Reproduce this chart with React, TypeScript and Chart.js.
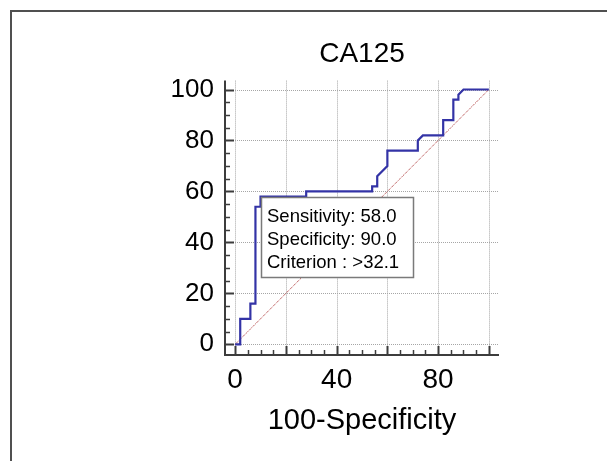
import React, { useEffect, useRef } from 'react';
import { Chart, registerables } from 'chart.js';

Chart.register(...registerables);

// ---- data ----
const chartTitle = 'CA125';
const xAxisTitle = '100-Specificity';
const fprValues = [0, 2, 2, 6, 6, 8, 8, 10, 10, 28, 28, 54, 54, 56, 56, 60, 60, 72, 72, 74, 82, 82, 86, 86, 88, 88, 90, 100];
const tprValues = [0, 0, 10, 10, 16, 16, 54, 54, 58, 58, 60, 60, 62, 62, 66, 70, 76, 76, 80, 82, 82, 88, 88, 96, 96, 98, 100, 100];
const diagonalX = [0, 100];
const diagonalY = [0, 100];
const yTickValues = [0, 20, 40, 60, 80, 100];
const xGridValues = [0, 20, 40, 60, 80, 100];
const xTickLabelValues = [0, 40, 80];
const minorStep = 5;
const criterionX = 10;
const criterionY = 58;
const infoLines = ['Sensitivity: 58.0', 'Specificity: 90.0', 'Criterion : >32.1'];

const FONT = "'Liberation Sans', Arial, Helvetica, sans-serif";

export default function App() {
  const ref = useRef<HTMLCanvasElement>(null);

  useEffect(() => {
    document.body.style.margin = '0';
    document.body.style.overflow = 'hidden';
    const canvas = ref.current;
    if (!canvas) return;

    const decor = {
      id: 'decor',
      beforeDraw(chart: any) {
        const ctx = chart.ctx;
        ctx.save();
        ctx.fillStyle = '#ffffff';
        ctx.fillRect(0, 0, chart.width, chart.height);
        ctx.strokeStyle = '#505050';
        ctx.lineWidth = 2;
        ctx.beginPath();
        ctx.moveTo(11, chart.height + 5);
        ctx.lineTo(11, 11);
        ctx.lineTo(chart.width + 5, 11);
        ctx.stroke();
        ctx.restore();
      },
      beforeDatasetsDraw(chart: any) {
        const ctx = chart.ctx;
        const { left, right, top, bottom } = chart.chartArea;
        const xs = chart.scales.x;
        const ys = chart.scales.y;
        ctx.save();
        ctx.strokeStyle = '#a6a6a6';
        ctx.lineWidth = 1;
        ctx.setLineDash([1, 1]);
        yTickValues.forEach((v) => {
          const py = Math.round(ys.getPixelForValue(v)) + 0.5;
          ctx.beginPath();
          ctx.moveTo(left, py);
          ctx.lineTo(right, py);
          ctx.stroke();
        });
        xGridValues.forEach((v) => {
          const px = Math.round(xs.getPixelForValue(v)) + 0.5;
          ctx.beginPath();
          ctx.moveTo(px, top);
          ctx.lineTo(px, bottom);
          ctx.stroke();
        });
        ctx.restore();
      },
      afterDatasetsDraw(chart: any) {
        const ctx = chart.ctx;
        const { left, right, top, bottom } = chart.chartArea;
        const xs = chart.scales.x;
        const ys = chart.scales.y;
        ctx.save();
        ctx.strokeStyle = '#3c3c3c';
        // axis lines
        ctx.lineWidth = 2;
        ctx.beginPath();
        ctx.moveTo(left, top);
        ctx.lineTo(left, bottom + 1);
        ctx.lineTo(right, bottom + 1);
        ctx.stroke();
        // y ticks
        for (let v = 0; v <= 100; v += minorStep) {
          const major = v % 20 === 0;
          const py = Math.round(ys.getPixelForValue(v)) + 0.5;
          ctx.lineWidth = major ? 2 : 1.5;
          ctx.beginPath();
          ctx.moveTo(left, py);
          ctx.lineTo(left + (major ? 9 : 5), py);
          ctx.stroke();
        }
        // x ticks
        for (let v = 0; v <= 100; v += minorStep) {
          const major = v % 20 === 0;
          const px = Math.round(xs.getPixelForValue(v)) + 0.5;
          ctx.lineWidth = major ? 2 : 1.5;
          ctx.beginPath();
          ctx.moveTo(px, bottom + 1);
          ctx.lineTo(px, bottom + 1 - (major ? 9 : 5));
          ctx.stroke();
        }
        // info box anchored at the criterion point
        const bx = Math.round(xs.getPixelForValue(criterionX)) + 0.5;
        const by = Math.round(ys.getPixelForValue(criterionY)) + 0.5;
        const bw = 152;
        const bh = 80;
        ctx.fillStyle = '#ffffff';
        ctx.fillRect(bx, by, bw, bh);
        ctx.strokeStyle = '#7a7a7a';
        ctx.lineWidth = 1.5;
        ctx.strokeRect(bx, by, bw, bh);
        ctx.fillStyle = '#000000';
        ctx.font = `18.5px ${FONT}`;
        ctx.textAlign = 'left';
        ctx.textBaseline = 'alphabetic';
        infoLines.forEach((line, i) => {
          ctx.fillText(line, bx + 5.5, by + 24.3 + i * 23.2);
        });
        ctx.restore();
      },
    };

    const chart = new Chart(canvas, {
      type: 'scatter',
      data: {
        datasets: [
          {
            label: 'ROC',
            data: fprValues.map((x, i) => ({ x, y: tprValues[i] })),
            showLine: true,
            borderColor: '#3333a6',
            backgroundColor: '#3333a6',
            borderWidth: 2.2,
            pointRadius: 0,
            tension: 0,
            fill: false,
          },
          {
            label: 'Reference',
            data: diagonalX.map((x, i) => ({ x, y: diagonalY[i] })),
            showLine: true,
            borderColor: '#a82828',
            backgroundColor: '#a82828',
            borderWidth: 1,
            borderDash: [1, 1],
            pointRadius: 0,
            tension: 0,
            fill: false,
          },
        ],
      },
      options: {
        animation: false,
        responsive: false,
        events: [],
        layout: { padding: { left: 0, right: 108, top: 0, bottom: 0 } },
        plugins: {
          legend: { display: false },
          tooltip: { enabled: false },
          title: {
            display: true,
            text: chartTitle,
            fullSize: false,
            color: '#000000',
            font: { size: 28, family: FONT, weight: 'normal' },
            padding: { top: 37, bottom: 10 },
          },
        },
        scales: {
          x: {
            type: 'linear',
            min: -4,
            max: 104,
            grid: { display: false, drawTicks: false },
            border: { display: false },
            afterBuildTicks: (s: any) => {
              s.ticks = xTickLabelValues.map((v) => ({ value: v }));
            },
            afterFit: (s: any) => {
              s.height = 107;
            },
            ticks: {
              padding: 9,
              color: '#000000',
              autoSkip: false,
              maxRotation: 0,
              font: { size: 28, family: FONT },
              callback: (v: any) => String(v),
            },
            title: {
              display: true,
              text: xAxisTitle,
              color: '#000000',
              font: { size: 29, family: FONT },
              padding: { top: 0, bottom: 22.7 },
            },
          },
          y: {
            type: 'linear',
            min: -3.8,
            max: 103.5,
            grid: { display: false, drawTicks: false },
            border: { display: false },
            afterBuildTicks: (s: any) => {
              s.ticks = yTickValues.map((v) => ({ value: v }));
            },
            afterFit: (s: any) => {
              s.width = 225;
            },
            ticks: {
              padding: 11,
              color: '#000000',
              autoSkip: false,
              font: { size: 26, family: FONT },
              callback: (v: any) => String(v),
            },
          },
        },
      },
      plugins: [decor],
    } as any);

    return () => chart.destroy();
  }, []);

  return <canvas ref={ref} width={607} height={461} style={{ display: 'block' }} />;
}
